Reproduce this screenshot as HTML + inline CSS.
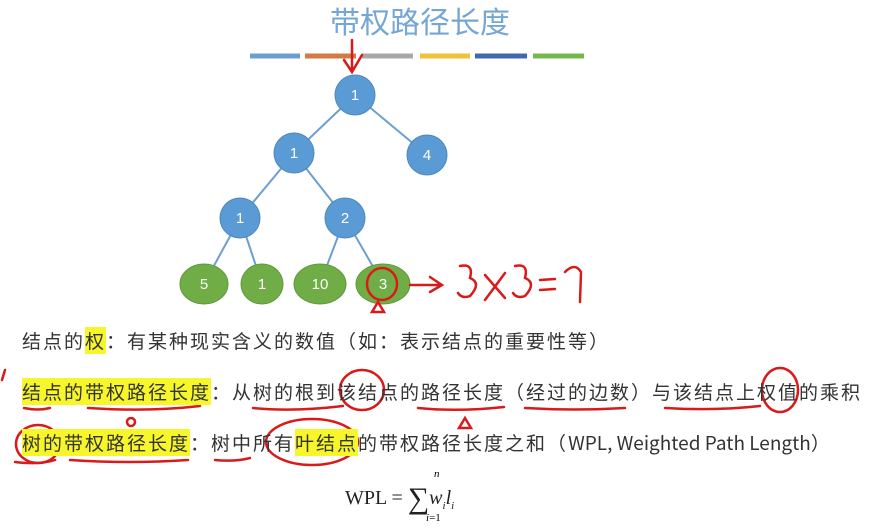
<!DOCTYPE html>
<html><head><meta charset="utf-8"><style>
body{margin:0;width:871px;height:532px;background:#fff;overflow:hidden;position:relative;font-family:"Liberation Sans","Noto Sans CJK SC",sans-serif}
.t{position:absolute;font-size:19px;letter-spacing:2px;color:#333;white-space:nowrap;font-family:"Noto Sans CJK SC","Liberation Sans",sans-serif;line-height:24px}
.h{background:#f6f62a}
svg{position:absolute;left:0;top:0}
</style></head><body>
<svg width="871" height="532">
<text x="420" y="33" text-anchor="middle" font-size="30" fill="#74a6d6" font-family="Noto Sans CJK SC,sans-serif">带权路径长度</text>
<g stroke-width="5">
<line x1="250" y1="56" x2="300" y2="56" stroke="#6b9fd0"/>
<line x1="305" y1="56" x2="356" y2="56" stroke="#d57a42"/>
<line x1="362" y1="56" x2="413" y2="56" stroke="#a8a8a8"/>
<line x1="420" y1="56" x2="470" y2="56" stroke="#f0c23a"/>
<line x1="475" y1="56" x2="527" y2="56" stroke="#3f68b0"/>
<line x1="533" y1="56" x2="584" y2="56" stroke="#74b84e"/>
</g>
<g stroke="#6b9fd0" stroke-width="2">
<line x1="355" y1="95" x2="294" y2="153"/><line x1="355" y1="95" x2="427" y2="155"/>
<line x1="294" y1="153" x2="240" y2="218"/><line x1="294" y1="153" x2="345" y2="218"/>
<line x1="240" y1="218" x2="204" y2="284"/><line x1="240" y1="218" x2="262" y2="284"/>
<line x1="345" y1="218" x2="320" y2="284"/><line x1="345" y1="218" x2="383" y2="284"/>
</g>
<g fill="#5b9bd5" stroke="#4f87bd" stroke-width="1">
<circle cx="355" cy="95" r="20"/><circle cx="294" cy="153" r="20"/><circle cx="427" cy="155" r="20"/>
<circle cx="240" cy="218" r="20"/><circle cx="345" cy="218" r="20"/>
</g>
<g fill="#70ad47" stroke="#5f9a3c">
<ellipse cx="204" cy="284" rx="24" ry="20"/><ellipse cx="262" cy="284" rx="21" ry="20"/>
<ellipse cx="320" cy="284" rx="26" ry="20"/><ellipse cx="383" cy="284" rx="27" ry="20"/>
</g>
<g fill="#fff" font-size="15" text-anchor="middle" font-family="Liberation Sans,sans-serif">
<text x="355" y="100">1</text><text x="294" y="158">1</text><text x="427" y="160">4</text>
<text x="240" y="223">1</text><text x="345" y="223">2</text>
<text x="204" y="289">5</text><text x="262" y="289">1</text><text x="320" y="289">10</text><text x="383" y="289">3</text>
</g>
<g fill="none" stroke="#d91a1a" stroke-width="2.5" stroke-linecap="round">
<path d="M352 40 L352 70 M344 60 L352 72 L362 55"/>
<ellipse cx="382" cy="284" rx="15" ry="16"/>
<path d="M378 302 L372 312 L384 312 Z"/>
<path d="M410 285 L440 285 M430 277 L442 285 L430 292"/>
<path d="M460 266 q14 -3 10 12 q12 5 0 18 q-8 3 -12 -3"/>
<path d="M485 275 L505 298 M505 273 L485 300"/>
<path d="M515 266 q14 -3 10 12 q12 5 0 18 q-8 3 -12 -3"/>
<path d="M540 280 L555 279 M540 290 L555 289"/>
<path d="M565 272 q10 -10 16 0 l-1 30"/>
<path d="M5 370 L2 380"/>
<path d="M24 408 q14 3 26 0 M88 408 q60 4 112 -2 M253 408 q40 4 90 -2 M418 408 q40 4 86 -1 M525 408 q50 3 100 0 M665 408 q50 3 95 -2"/>
<ellipse cx="362" cy="390" rx="22" ry="20"/>
<ellipse cx="780" cy="390" rx="18" ry="22"/>
<path d="M465 418 L459 428 L471 428 Z"/>
<circle cx="131" cy="422" r="4"/>
<ellipse cx="38" cy="444" rx="22" ry="19"/>
<ellipse cx="312" cy="442" rx="46" ry="23"/>
<path d="M15 462 q25 3 40 -2 M70 460 q60 4 118 0 M215 460 q20 2 35 -2"/>
</g>
</svg>
<div class="t" style="left:22px;top:329px">结点的<span class="h">权</span>：有某种现实含义的数值（如：表示结点的重要性等）</div>
<div class="t" style="left:22px;top:380px"><span class="h">结点的带权路径长度</span>：从树的根到该结点的路径长度（经过的边数）与该结点上权值的乘积</div>
<div class="t" style="left:22px;top:431px"><span class="h">树的带权路径长度</span>：树中所有<span class="h">叶结点</span>的带权路径长度之和（<span style="letter-spacing:0">WPL, Weighted Path Length</span>）</div>
<div style="position:absolute;left:345px;top:478px;font-family:'Liberation Serif',serif;font-size:20px;color:#222">WPL = <span style="font-size:30px;position:relative;top:4px">∑</span><i>w<sub style="font-size:11px">i</sub>l<sub style="font-size:11px">i</sub></i></div>
<div style="position:absolute;left:434px;top:468px;font-family:'Liberation Serif',serif;font-size:11px;font-style:italic">n</div>
<div style="position:absolute;left:426px;top:512px;font-family:'Liberation Serif',serif;font-size:11px"><i>i</i>=1</div>
</body></html>
